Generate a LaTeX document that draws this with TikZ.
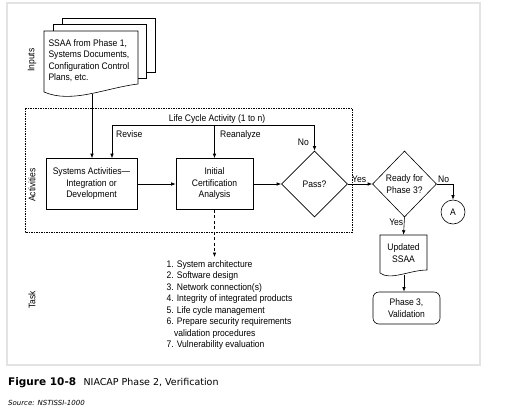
\documentclass[tikz,border=0pt]{standalone}
\usepackage{fontspec}
\setmainfont{Liberation Sans}
\newfontfamily\narrowfont[FakeStretch=0.9]{Liberation Sans}
\newfontfamily\capfont{DejaVu Sans}
\usetikzlibrary{shapes.geometric,arrows.meta,positioning}

\begin{document}
\begin{tikzpicture}[x=1pt,y=-1pt,
    every node/.style={font=\narrowfont\fontsize{9.5}{11.5}\selectfont},
    flowline/.style={line width=0.6pt},
    arr/.style={flowline,-{Latex[length=4.5pt,width=3.5pt]}},
    procbox/.style={draw,flowline,minimum width=91pt,minimum height=51pt,align=center,inner sep=2pt},
    decision/.style={draw,flowline,diamond,minimum width=66pt,minimum height=66pt,align=center,inner sep=0pt},
    sidelabel/.style={rotate=90},
    lbl/.style={inner sep=1pt}]
    \useasboundingbox (0,0) rectangle (505,410);
    \draw[gray!22,line width=2pt] (7,3) rectangle (480,365);

    % input documents
    \draw[flowline] (62,24) -- (62,18) -- (155,18) -- (155,72) -- (146,72);
    \draw[flowline] (53,31) -- (53,24) -- (146,24) -- (146,78) -- (138,78);
    \draw[flowline] (44,92) -- (44,31) -- (138,31) -- (138,84) .. controls (105,88) and (72,104) .. (44,92);
    \node[align=left,anchor=north west] (inp) at (45,36) {SSAA from Phase 1,\\Systems Documents,\\Configuration Control\\Plans, etc.};
    \coordinate (inpfoot) at (92,94);

    % activities
    \draw[line width=0.5pt,dash pattern=on 1.5pt off 1pt] (25,108) rectangle (352,232);
    \node[procbox] (sys) at (91.5,184) {Systems Activities—\\Integration or\\Development};
    \node[procbox,minimum width=77pt] (cert) at (214.5,184) {Initial\\Certification\\Analysis};
    \node[decision] (pass) at (314.5,184) {Pass?};
    \node[decision,minimum width=64pt] (ready) at (404.5,184) {Ready for\\Phase 3?};
    \node[draw,flowline,circle,minimum size=24pt,inner sep=0pt] (conA) at (453,212) {A};

    % outputs
    \node[minimum width=47pt,minimum height=36pt,align=center] (upd) at (403.5,253) {Updated\\SSAA};
    \draw[flowline] (380,273) -- (380,235) -- (427,235) -- (427,270) .. controls (410,270) and (390,281) .. (380,273);
    \coordinate (updfoot) at (404,274.5);
    \node[draw,flowline,rounded corners=6pt,minimum width=67pt,minimum height=32pt,align=center] (val) at (406.5,308) {Phase 3,\\Validation};

    % tasks
    \node[align=left,anchor=north west] (tasks) at (163,257) {1. System architecture\\2. Software design\\3. Network connection(s)\\4. Integrity of integrated products\\5. Life cycle management\\6. Prepare security requirements\\\hspace*{0.8em}validation procedures\\7. Vulnerability evaluation};

    % connectors
    \coordinate (loopL) at (112,125);
    \coordinate (loopR) at (314.5,125);
    \draw[flowline] (loopL) -- (loopR);
    \draw[arr] (loopL) -- (loopL |- sys.north);
    \draw[arr] (cert.north |- loopL) -- (cert.north);
    \draw[arr] (loopR) -- (pass.north);
    \draw[arr] (inpfoot) -- (inpfoot |- sys.north);
    \draw[arr] (sys) -- (cert);
    \draw[arr] (cert) -- (pass);
    \draw[arr] (pass) -- (ready) node[lbl,pos=0,anchor=south west,xshift=3pt] {Yes};
    \draw[arr] (ready.east) -| (conA.north) node[lbl,pos=0,anchor=south west] {No};
    \draw[arr] (ready.south) -- (upd.north) node[lbl,pos=0,anchor=north east] {Yes};
    \draw[arr] (updfoot) -- (updfoot |- val.north);
    \draw[arr,dash pattern=on 3pt off 2.5pt] (cert.south) -- (cert.south |- tasks.north);

    % labels
    \node[lbl,anchor=base] (lca) at (217,121) {Life Cycle Activity (1 to n)};
    \node[lbl,anchor=base west] (rev) at (115,137) {Revise};
    \node[lbl,anchor=base west] (rean) at (219,137) {Reanalyze};
    \node[lbl,anchor=base east] (passno) at (310,145) {No};
    \node[sidelabel] (sideinp) at (32,60) {Inputs};
    \node[sidelabel] (sideact) at (32,185) {Activities};
    \node[sidelabel] (sidetask) at (32,300) {Task};

    % caption
    \node[anchor=base west,inner sep=0pt,font=\capfont\bfseries\fontsize{10.5}{12}\selectfont] (figno) at (8,385) {Figure 10-8};
    \node[anchor=base west,inner sep=0pt,font=\capfont\fontsize{9.5}{11}\selectfont] (figtitle) at ([xshift=7pt]figno.base east) {NIACAP Phase 2, Verification};
    \node[anchor=base west,inner sep=0pt,font=\capfont\itshape\fontsize{7}{8}\selectfont] (src) at (8,405) {Source: NSTISSI-1000};
  \end{tikzpicture}
\end{document}
